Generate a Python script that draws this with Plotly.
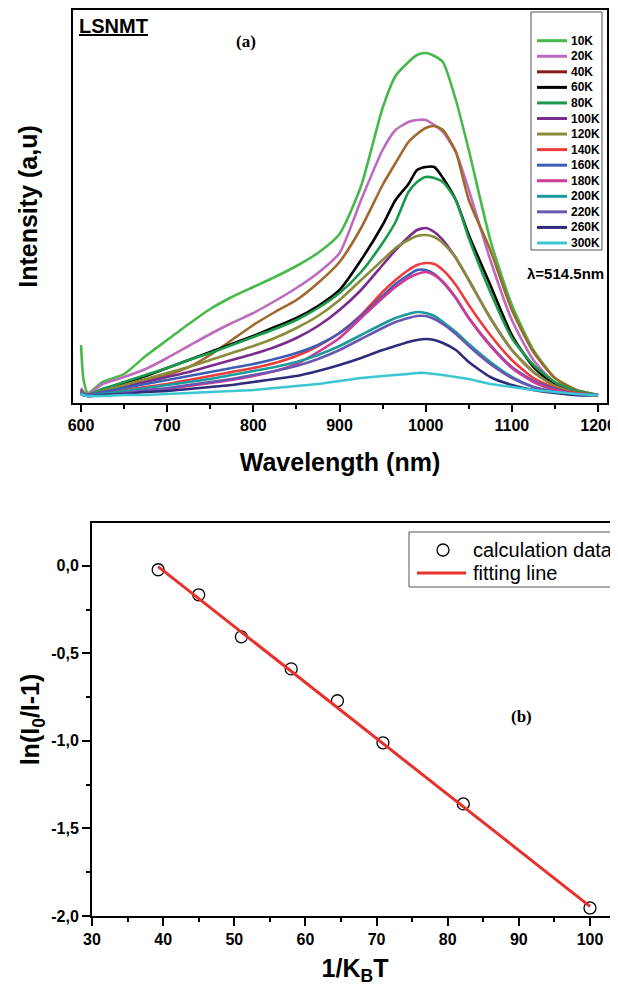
import plotly.graph_objects as go

# ---------------- Panel (a) data: PL spectra ----------------
wavelength = [600, 603, 608, 625, 650, 675, 700, 725, 750, 775, 800, 825, 850, 875, 900,
              925, 950, 965, 980, 990, 1000, 1010, 1020, 1035, 1050, 1075, 1100, 1125,
              1150, 1175, 1200]

temps = ["10K", "20K", "40K", "60K", "80K", "100K", "120K", "140K", "160K", "180K",
         "200K", "220K", "260K", "300K"]

i_10K = [51, 16, 3, 14, 22, 40, 56, 72, 87, 99, 109, 119, 130, 143, 162, 210, 288, 320,
         334, 341, 343, 340, 334, 296, 246, 156, 91, 46, 18, 6, 1]
i_20K = [8, 4, 2, 12, 19, 27, 38, 50, 62, 73, 83, 95, 108, 123, 143, 196, 246, 266, 274,
         276, 276, 271, 264, 244, 206, 136, 76, 36, 13, 4, 1]
i_40K = [4, 2, 1, 7, 11, 16, 21, 29, 41, 56, 71, 84, 96, 113, 134, 168, 211, 233, 254,
         262, 268, 270, 266, 244, 196, 146, 86, 44, 18, 6, 1]
i_60K = [4, 2, 1, 6, 13, 20, 28, 36, 44, 52, 60, 69, 78, 90, 106, 136, 171, 196, 212,
         226, 229, 229, 218, 196, 161, 111, 61, 29, 11, 3, 1]
i_80K = [6, 3, 1, 7, 14, 21, 28, 36, 43, 51, 59, 67, 76, 88, 103, 124, 153, 174, 204,
         214, 219, 218, 214, 196, 158, 104, 58, 31, 14, 5, 1]
i_100K = [6, 2, 1, 4, 9, 14, 19, 24, 30, 36, 42, 49, 58, 70, 86, 106, 131, 146, 159,
          166, 168, 164, 156, 138, 116, 78, 46, 24, 10, 3, 1]
i_120K = [5, 2, 1, 5, 11, 17, 23, 29, 36, 43, 50, 58, 68, 80, 96, 116, 136, 148, 156,
          160, 161, 159, 153, 138, 116, 78, 46, 24, 10, 3, 1]
i_140K = [4, 2, 1, 3, 6, 9, 12, 16, 20, 24, 28, 33, 40, 50, 63, 81, 104, 116, 126, 131,
          133, 132, 126, 111, 91, 61, 36, 18, 8, 3, 1]
i_160K = [4, 2, 1, 4, 8, 12, 16, 20, 24, 28, 32, 37, 43, 51, 63, 80, 100, 112, 121, 126,
          126, 122, 114, 98, 78, 51, 29, 15, 7, 2, 1]
i_180K = [2, 1, 0, 1, 3, 5, 7, 10, 13, 16, 20, 25, 32, 44, 58, 78, 98, 109, 118, 122,
          124, 121, 114, 98, 78, 50, 28, 14, 6, 2, 1]
i_200K = [3, 1, 0, 2, 5, 8, 11, 14, 17, 21, 25, 29, 34, 41, 50, 61, 72, 78, 82, 84, 83,
          80, 74, 64, 52, 34, 19, 9, 4, 1, 1]
i_220K = [2, 1, 0, 1, 3, 6, 8, 11, 14, 17, 21, 25, 30, 37, 46, 57, 68, 74, 78, 80, 80,
          77, 72, 62, 50, 32, 18, 9, 4, 1, 1]
i_260K = [2, 1, 0, 1, 2, 4, 5, 7, 9, 11, 14, 17, 20, 25, 31, 38, 46, 50, 54, 56, 57, 56,
          53, 46, 34, 19, 11, 6, 3, 1, 1]
i_300K = [2, 1, 0, 0, 1, 1, 2, 3, 4, 5, 6, 8, 10, 12, 15, 18, 20, 21, 22, 23, 23, 22,
          21, 19, 17, 12, 9, 6, 4, 2, 1]

spectra = [i_10K, i_20K, i_40K, i_60K, i_80K, i_100K, i_120K, i_140K, i_160K, i_180K,
           i_200K, i_220K, i_260K, i_300K]

line_colors = ["#47B94A", "#BC6BBE", "#A0692C", "#000000", "#1A9A4A", "#7A2C8E",
               "#8A8C3C", "#EE3B3B", "#3E5DB5", "#CF3A95", "#1B9B9B", "#6A58B0",
               "#2D2B7C", "#3CC6D2"]
legend_colors = ["#47B94A", "#BC6BBE", "#8B1A1A", "#000000", "#1A9A4A", "#7A2C8E",
                 "#8A8C3C", "#EE3B3B", "#3E5DB5", "#CF3A95", "#1B9B9B", "#6A58B0",
                 "#2D2B7C", "#3CC6D2"]

x_ticks_a = [600, 700, 800, 900, 1000, 1100, 1200]

# ---------------- Panel (b) data ----------------
inv_kT = [39.3, 45.0, 51.0, 58.0, 64.5, 70.9, 82.2, 100.0]
ln_ratio = [-0.023, -0.166, -0.406, -0.589, -0.771, -1.011, -1.360, -1.954]
fit_x = [39.3, 100.0]
fit_y = [-0.005, -1.945]

x_ticks_b = [30, 40, 50, 60, 70, 80, 90, 100]
y_ticks_b = [0.0, -0.5, -1.0, -1.5, -2.0]
y_ticktext_b = ["0,0", "-0,5", "-1,0", "-1,5", "-2,0"]
legend_b = ["calculation data", "fitting line"]

# page body has an 8 px margin: figure is laid out in page pixels minus 8
OFF = 8
W, H = 618 - OFF, 986 - OFF
def px(x):
    return (x - OFF) / W
def py(y):
    return 1 - (y - OFF) / H

SANS = "Liberation Sans, Arial, sans-serif"
SERIF = "Liberation Serif, Times New Roman, serif"

fig = go.Figure()

for name, vals, col in zip(temps, spectra, line_colors):
    fig.add_trace(go.Scatter(x=wavelength, y=vals, mode="lines", name=name,
                             line=dict(color=col, width=2.6, shape="spline", smoothing=0.6),
                             xaxis="x", yaxis="y", showlegend=False))

fig.add_trace(go.Scatter(x=inv_kT, y=ln_ratio, mode="markers", name=legend_b[0],
                         marker=dict(symbol="circle-open", size=12, color="black",
                                     line=dict(width=1.3, color="black")),
                         xaxis="x2", yaxis="y2", showlegend=False))
fig.add_trace(go.Scatter(x=fit_x, y=fit_y, mode="lines", name=legend_b[1],
                         line=dict(color="#E8302C", width=3),
                         xaxis="x2", yaxis="y2", showlegend=False))

shapes = []
annotations = []

# legend box for panel (a)
shapes.append(dict(type="rect", xref="paper", yref="paper",
                   x0=px(531), x1=px(602), y0=py(250), y1=py(12),
                   line=dict(color="#555555", width=1), fillcolor="white", layer="above"))
for i, (lab, col) in enumerate(zip(temps, legend_colors)):
    yy = 40.7 + i * 15.56
    shapes.append(dict(type="line", xref="paper", yref="paper",
                       x0=px(537), x1=px(567), y0=py(yy), y1=py(yy),
                       line=dict(color=col, width=3), layer="above"))
    annotations.append(dict(text="<b>%s</b>" % lab, xref="paper", yref="paper",
                            x=px(569), y=py(yy), xanchor="left", yanchor="middle",
                            showarrow=False, font=dict(family=SANS, size=12, color="black")))

# legend box for panel (b)
shapes.append(dict(type="rect", xref="paper", yref="paper",
                   x0=px(409), x1=px(640), y0=py(587), y1=py(532),
                   line=dict(color="#555555", width=1), fillcolor="white", layer="above"))
shapes.append(dict(type="circle", xref="paper", yref="paper",
                   x0=px(437), x1=px(449), y0=py(556), y1=py(544),
                   line=dict(color="black", width=1.3), layer="above"))
shapes.append(dict(type="line", xref="paper", yref="paper",
                   x0=px(417), x1=px(466), y0=py(573), y1=py(573),
                   line=dict(color="#E8302C", width=3), layer="above"))
for lab, yy in zip(legend_b, [550, 573]):
    annotations.append(dict(text=lab, xref="paper", yref="paper",
                            x=px(471), y=py(yy), xanchor="left", yanchor="middle",
                            showarrow=False, font=dict(family=SANS, size=20, color="black")))

annotations += [
    dict(text="<b><u>LSNMT</u></b>", xref="paper", yref="paper", x=px(77), y=py(26),
         xanchor="left", yanchor="middle", showarrow=False,
         font=dict(family=SANS, size=20, color="black")),
    dict(text="<b>(a)</b>", xref="paper", yref="paper", x=px(246), y=py(42),
         xanchor="center", yanchor="middle", showarrow=False,
         font=dict(family=SERIF, size=17, color="black")),
    dict(text="<b>λ=514.5nm</b>", xref="paper", yref="paper", x=px(565), y=py(273),
         xanchor="center", yanchor="middle", showarrow=False,
         font=dict(family=SANS, size=15, color="black")),
    dict(text="<b>(b)</b>", xref="paper", yref="paper", x=px(521), y=py(716),
         xanchor="center", yanchor="middle", showarrow=False,
         font=dict(family=SERIF, size=17, color="black")),
]

tickfont = dict(family=SANS, size=16, color="black", weight="bold")
titlefont = dict(family=SANS, size=25, color="black", weight="bold")

fig.update_layout(
    width=W, height=H,
    margin=dict(l=0, r=0, t=0, b=0, autoexpand=False),
    paper_bgcolor="white", plot_bgcolor="white",
    showlegend=False,
    xaxis=dict(domain=[px(73), px(607)], range=[590.7, 1210.4], anchor="y",
               tickmode="array", tickvals=x_ticks_a,
               ticks="outside", ticklen=7, tickwidth=2, tickcolor="black",
               minor=dict(ticks="outside", ticklen=4, tickwidth=2, tickcolor="black",
                          tickmode="array", tickvals=[650, 750, 850, 950, 1050, 1150]),
               showline=True, linewidth=2, linecolor="black", mirror=True,
               showgrid=False, zeroline=False, tickfont=tickfont,
               title=dict(text="Wavelength (nm)", font=titlefont, standoff=20)),
    yaxis=dict(domain=[py(403), py(10)], range=[-7, 386], anchor="x",
               showticklabels=False, ticks="",
               showline=True, linewidth=2, linecolor="black", mirror=True,
               showgrid=False, zeroline=False,
               title=dict(text="Intensity (a,u)", font=titlefont, standoff=26)),
    xaxis2=dict(domain=[px(92), 1.0], range=[30, 103.94], anchor="y2",
                tickmode="array", tickvals=x_ticks_b,
                ticks="outside", ticklen=8, tickwidth=2, tickcolor="black",
                minor=dict(ticks="outside", ticklen=4, tickwidth=2, tickcolor="black",
                           tickmode="array", tickvals=[35, 45, 55, 65, 75, 85, 95]),
                showline=True, linewidth=2, linecolor="black", mirror=True,
                showgrid=False, zeroline=False, tickfont=tickfont,
                title=dict(text="1/K<sub>B</sub>T", font=titlefont, standoff=20)),
    yaxis2=dict(domain=[py(916), py(523)], range=[-2.0, 0.244], anchor="x2",
                tickmode="array", tickvals=y_ticks_b, ticktext=y_ticktext_b,
                ticks="outside", ticklen=8, tickwidth=2, tickcolor="black",
                minor=dict(ticks="outside", ticklen=4, tickwidth=2, tickcolor="black",
                           tickmode="array", tickvals=[-0.25, -0.75, -1.25, -1.75]),
                showline=True, linewidth=2, linecolor="black", mirror=False,
                showgrid=False, zeroline=False, tickfont=tickfont,
                title=dict(text="ln(I<sub>0</sub>/I-1)", font=titlefont, standoff=4)),
    shapes=shapes,
    annotations=annotations,
)

fig.write_html("out.html")
